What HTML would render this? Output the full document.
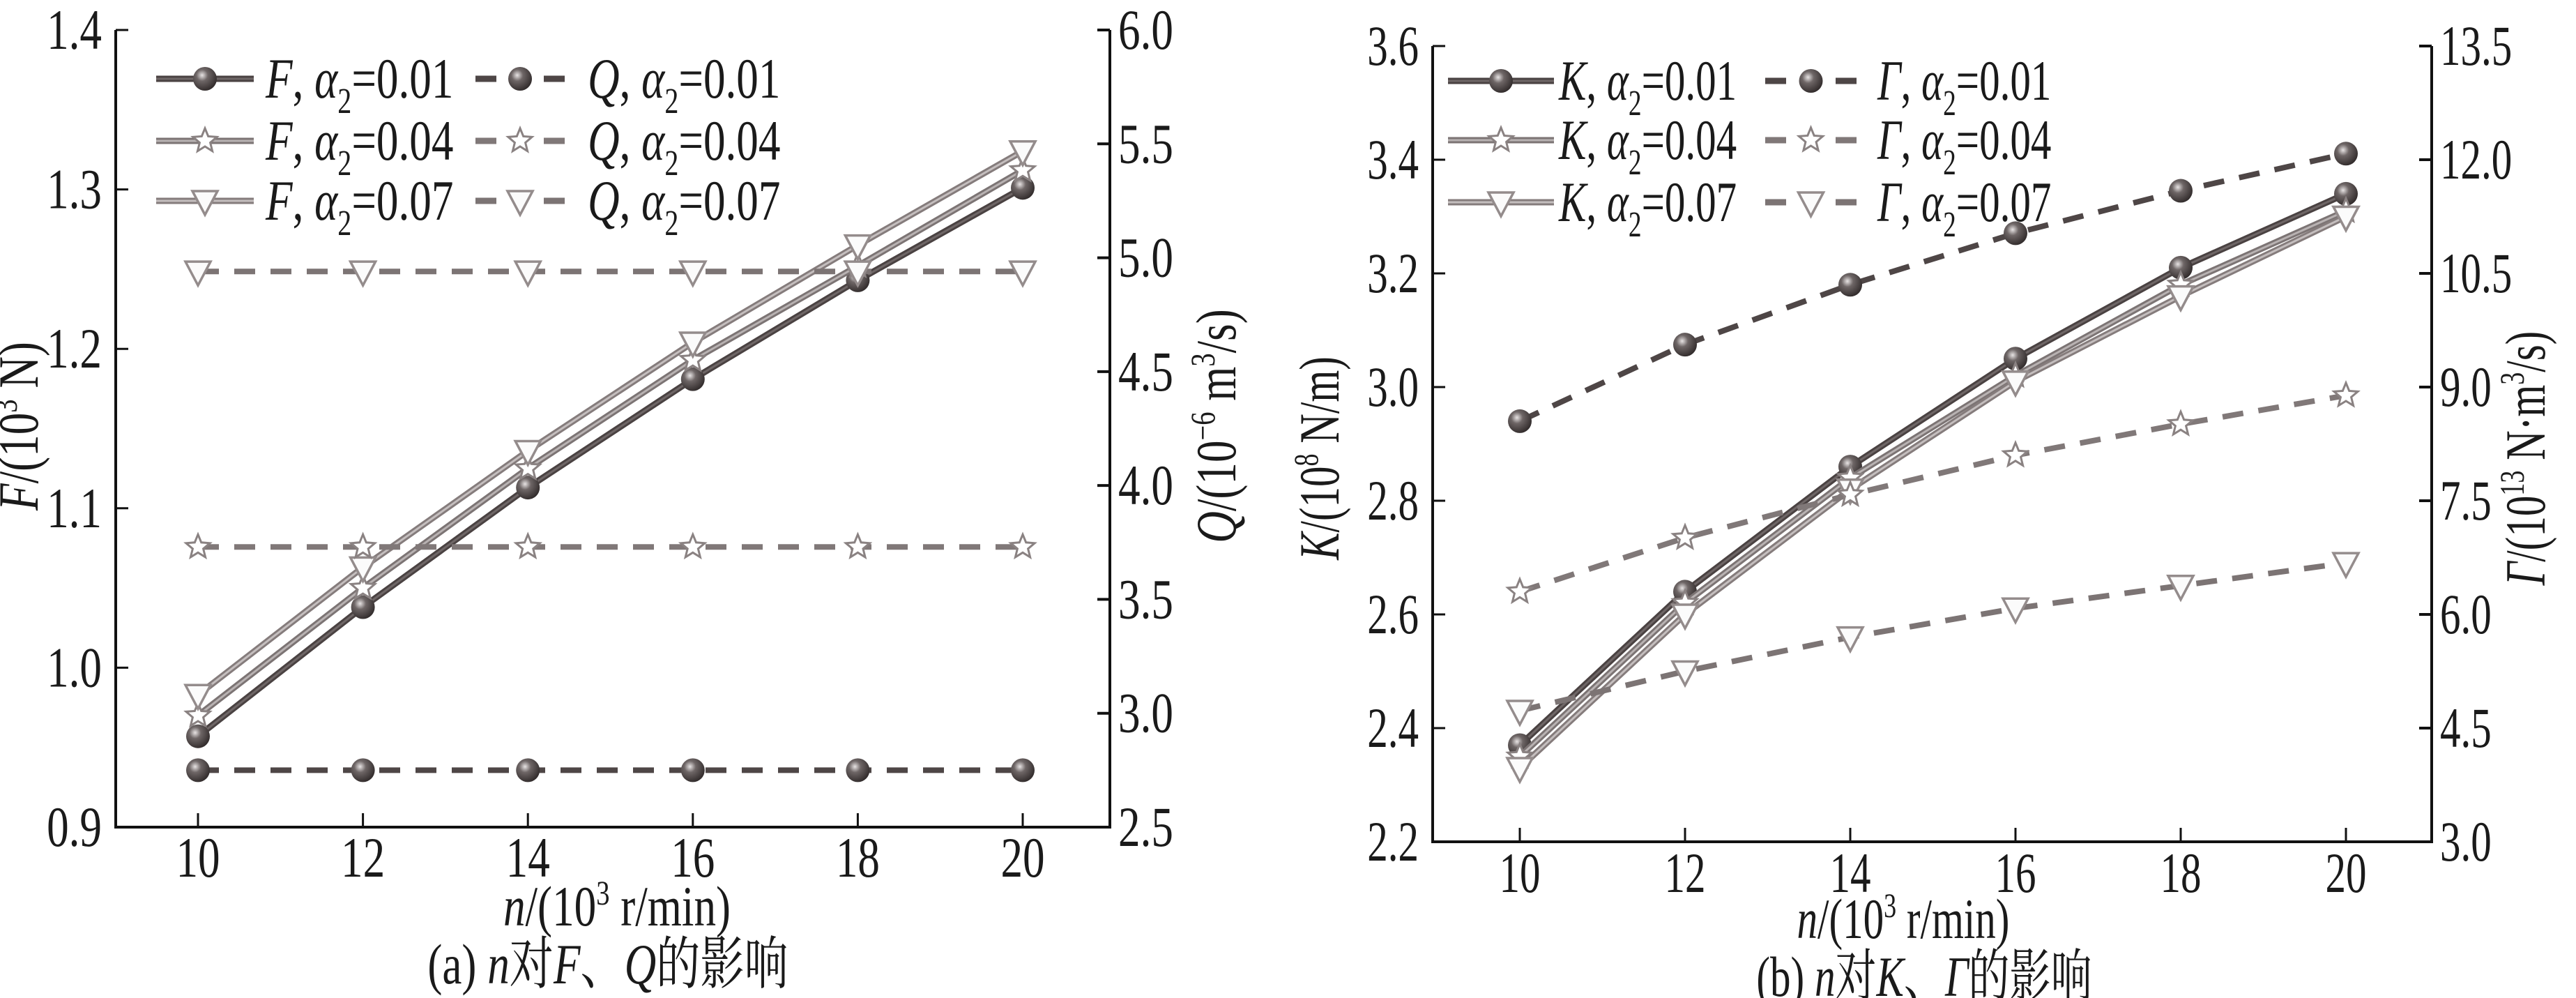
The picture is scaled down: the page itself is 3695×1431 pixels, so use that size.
<!DOCTYPE html>
<html><head><meta charset="utf-8"><style>
html,body{margin:0;padding:0;background:#fff}
svg{display:block}
text{font-family:"Liberation Serif","Noto Serif CJK SC",serif;fill:#1a1a1a}
</style></head><body>
<svg id="svg" width="3695" height="1431" viewBox="0 0 3695 1431" xmlns="http://www.w3.org/2000/svg">
<defs>
<radialGradient id="sph" cx="0.38" cy="0.35" r="0.7">
<stop offset="0" stop-color="#e8e4e4"/><stop offset="0.35" stop-color="#6e6666"/><stop offset="1" stop-color="#2e2828"/>
</radialGradient>
</defs>
</svg>
<script>
const nValues=[10,12,14,16,18,20];
const xTicks=[10,12,14,16,18,20];
const fA1=[0.957,1.038,1.113,1.181,1.243,1.301];
const fA4=[0.970,1.050,1.125,1.193,1.252,1.312];
const fA7=[0.983,1.063,1.136,1.204,1.265,1.324];
const qA1=[2.75,2.75,2.75,2.75,2.75,2.75];
const qA4=[3.73,3.73,3.73,3.73,3.73,3.73];
const qA7=[4.94,4.94,4.94,4.94,4.94,4.94];
const fTicks=["0.9","1.0","1.1","1.2","1.3","1.4"];
const qTicks=["2.5","3.0","3.5","4.0","4.5","5.0","5.5","6.0"];
const kA1=[2.37,2.64,2.86,3.05,3.21,3.34];
const kA4=[2.35,2.62,2.84,3.02,3.18,3.31];
const kA7=[2.33,2.60,2.82,3.01,3.16,3.30];
const gA1=[8.55,9.56,10.35,11.03,11.59,12.08];
const gA4=[6.30,7.01,7.58,8.10,8.51,8.89];
const gA7=[4.73,5.25,5.70,6.08,6.38,6.68];
const kTicks=["2.2","2.4","2.6","2.8","3.0","3.2","3.4","3.6"];
const gTicks=["3.0","4.5","6.0","7.5","9.0","10.5","12.0","13.5"];

const NS="http://www.w3.org/2000/svg";
const svg=document.getElementById('svg');
const FS=82;
function mk(tag,attrs,parent){const e=document.createElementNS(NS,tag);for(const k in attrs)e.setAttribute(k,attrs[k]);(parent||svg).appendChild(e);return e;}
function txt(parent,x,y,anchor,html,sx,rot){
  const t=mk('text',{x:0,y:0,'font-size':FS,'text-anchor':anchor,transform:`translate(${x},${y})${rot?' rotate(-90)':''} scale(${sx},1)`},parent);
  t.innerHTML=html;return t;
}
const SUP=(s)=>`<tspan font-size="50" dy="-30">${s}</tspan><tspan dy="30"> </tspan>`;

function marker(g,type,x,y){
  let m;
  if(type==='sphere'){m=mk('circle',{cx:x,cy:y,r:17,fill:'url(#sph)'},g);}
  else if(type==='star'){
    let p=[];for(let i=0;i<10;i++){const a=-Math.PI/2+i*Math.PI/5;const r=i%2?8:18;p.push((x+r*Math.cos(a)).toFixed(1)+','+(y+r*Math.sin(a)).toFixed(1));}
    m=mk('polygon',{points:p.join(' '),fill:'#fff',stroke:'#8a8282','stroke-width':3},g);
  } else {
    m=mk('polygon',{points:`${x-18},${y-14} ${x+18},${y-14} ${x},${y+20}`,fill:'#fbfbfb',stroke:'#948c8c','stroke-width':3.5},g);
  }
  
  
}

function chart(cfg){
  const g=mk('g',{});
  
  
  const sx=cfg.sx;
  const X=v=>cfg.x10+(v-10)*cfg.xstep;
  const Y1=v=>cfg.B-(v-cfg.y1min)/(cfg.y1max-cfg.y1min)*(cfg.B-cfg.T);
  const Y2=v=>cfg.B-(v-cfg.y2min)/(cfg.y2max-cfg.y2min)*(cfg.B-cfg.T);
  cfg.series.forEach(s=>{
    const Y=s.axis===1?Y1:Y2;
    const pts=nValues.map((n,i)=>X(n).toFixed(1)+','+Y(s.vals[i]).toFixed(1)).join(' ');
    const pl=mk('polyline',{points:pts,fill:'none',stroke:s.color,'stroke-width':s.dash?8:9,'stroke-dasharray':s.dash?'30 22':'none'},g);
    
    
    if(!s.dash){mk('polyline',{points:pts,fill:'none',stroke:s.inner,'stroke-width':3},g);}
    nValues.forEach((n,i)=>marker(g,s.mk,X(n),Y(s.vals[i])));
  });
  const ax=mk('path',{d:`M${cfg.L},${cfg.T} L${cfg.L},${cfg.B} L${cfg.R},${cfg.B} L${cfg.R},${cfg.T}`,fill:'none',stroke:'#111','stroke-width':4},g);
  
  
  xTicks.forEach(v=>{
    mk('line',{x1:X(v),x2:X(v),y1:cfg.B,y2:cfg.B-20,stroke:'#111','stroke-width':3},g);
    const t=txt(g,X(v),cfg.tickBase,'middle',String(v),sx);
    
    
  });
  cfg.y1Ticks.forEach(s=>{
    const y=Y1(parseFloat(s));
    mk('line',{x1:cfg.L,x2:cfg.L+18,y1:y,y2:y,stroke:'#111','stroke-width':3},g);
    const t=txt(g,cfg.L-20,y+27,'end',s,sx);
    
    
  });
  cfg.y2Ticks.forEach(s=>{
    const y=Y2(parseFloat(s));
    mk('line',{x1:cfg.R-18,x2:cfg.R,y1:y,y2:y,stroke:'#111','stroke-width':4},g);
    const t=txt(g,cfg.R+12,y+27,'start',s,sx);
    
    
  });
  const xt=txt(g,cfg.xtc,cfg.xTitleBase,'middle','<tspan font-style="italic">n</tspan>/(10'+SUP('3')+'r/min)',sx);
  
  
  const cap=txt(g,cfg.xc,cfg.capBase,'middle',cfg.caption,sx);
  
  
  const lt=txt(g,cfg.ly1x,cfg.ly1y,'middle',cfg.y1Title,sx,true);
  
  
  const rt=txt(g,cfg.ly2x,cfg.ly2y,'middle',cfg.y2Title,sx,true);
  
  
  const lg=mk('g',{},g);
  
  
  cfg.series.forEach((s,i)=>{
    const col=s.axis===1?0:1;const row=i%3;
    const x0=cfg.legCols[col][0],x1=cfg.legCols[col][1],tx=cfg.legCols[col][2];
    const y=cfg.legRows[row];
    const e=mk('g',{},lg);
    
    
    if(s.dash){
      mk('line',{x1:x0,x2:x0+30,y1:y,y2:y,stroke:s.color,'stroke-width':9},e);
      mk('line',{x1:x1-30,x2:x1,y1:y,y2:y,stroke:s.color,'stroke-width':9},e);
    } else {
      mk('line',{x1:x0,x2:x1,y1:y,y2:y,stroke:s.color,'stroke-width':9},e);
      mk('line',{x1:x0,x2:x1,y1:y,y2:y,stroke:s.inner,'stroke-width':3},e);
    }
    marker(e,s.mk,(x0+x1)/2,y);
    txt(e,tx,y+27,'start',`<tspan font-style="italic">${s.sym}</tspan>, <tspan font-style="italic">α</tspan><tspan font-size="52" dy="22">2</tspan><tspan dy="-22">=${s.a}</tspan>`,sx);
  });
}

chart({name:'chart-a',sx:0.77,L:166,R:1592,T:43,B:1186,x10:284,xstep:118.3,y1min:0.9,y1max:1.4,y2min:2.5,y2max:6.0,
  y1Ticks:fTicks,y2Ticks:qTicks,tickBase:1257,xTitleBase:1327,capBase:1410,xc:872,xtc:885,
  caption:'(a) <tspan font-style="italic">n</tspan>对<tspan font-style="italic">F</tspan>、<tspan font-style="italic">Q</tspan>的影响',
  y1Title:'<tspan font-style="italic">F</tspan>/(10'+SUP('3')+'N)',
  y2Title:'<tspan font-style="italic">Q</tspan>/(10'+SUP('−6')+'m<tspan font-size="50" dy="-30">3</tspan><tspan dy="30">/s)</tspan>',
  ly1x:54,ly1y:611,ly2x:1772,ly2y:611,
  legRows:[113,202,288],legCols:[[224,364,381],[682,810,843]],
  series:[
   {id:'f-a001',vals:fA1,axis:1,mk:'sphere',color:'#4a4242',inner:'#6e6666',sym:'F',a:'0.01'},
   {id:'f-a004',vals:fA4,axis:1,mk:'star',color:'#7c7474',inner:'#b8b2b2',sym:'F',a:'0.04'},
   {id:'f-a007',vals:fA7,axis:1,mk:'tri',color:'#857c7c',inner:'#c4bebe',sym:'F',a:'0.07'},
   {id:'q-a001',vals:qA1,axis:2,mk:'sphere',color:'#4e4646',dash:1,sym:'Q',a:'0.01'},
   {id:'q-a004',vals:qA4,axis:2,mk:'star',color:'#807878',dash:1,sym:'Q',a:'0.04'},
   {id:'q-a007',vals:qA7,axis:2,mk:'tri',color:'#7c7474',dash:1,sym:'Q',a:'0.07'}]
});

chart({name:'chart-b',sx:0.72,L:2055,R:3488,T:66,B:1207,x10:2180,xstep:118.5,y1min:2.2,y1max:3.6,y2min:3.0,y2max:13.5,
  y1Ticks:kTicks,y2Ticks:gTicks,tickBase:1279,xTitleBase:1345,capBase:1428,xc:2760,xtc:2730,
  caption:'(b) <tspan font-style="italic">n</tspan>对<tspan font-style="italic">K</tspan>、<tspan font-style="italic">Γ</tspan>的影响',
  y1Title:'<tspan font-style="italic">K</tspan>/(10'+SUP('8')+'N/m)',
  y2Title:'<tspan font-style="italic">Γ</tspan>/(10'+SUP('13')+'N·m<tspan font-size="50" dy="-30">3</tspan><tspan dy="30">/s)</tspan>',
  ly1x:1920,ly1y:657,ly2x:3650,ly2y:657,
  legRows:[116,201,290],legCols:[[2077,2229,2236],[2532,2663,2693]],
  series:[
   {id:'k-a001',vals:kA1,axis:1,mk:'sphere',color:'#4a4242',inner:'#6e6666',sym:'K',a:'0.01'},
   {id:'k-a004',vals:kA4,axis:1,mk:'star',color:'#7c7474',inner:'#b8b2b2',sym:'K',a:'0.04'},
   {id:'k-a007',vals:kA7,axis:1,mk:'tri',color:'#857c7c',inner:'#c4bebe',sym:'K',a:'0.07'},
   {id:'g-a001',vals:gA1,axis:2,mk:'sphere',color:'#4e4646',dash:1,sym:'Γ',a:'0.01'},
   {id:'g-a004',vals:gA4,axis:2,mk:'star',color:'#807878',dash:1,sym:'Γ',a:'0.04'},
   {id:'g-a007',vals:gA7,axis:2,mk:'tri',color:'#7c7474',dash:1,sym:'Γ',a:'0.07'}]
});
</script>
</body></html>
